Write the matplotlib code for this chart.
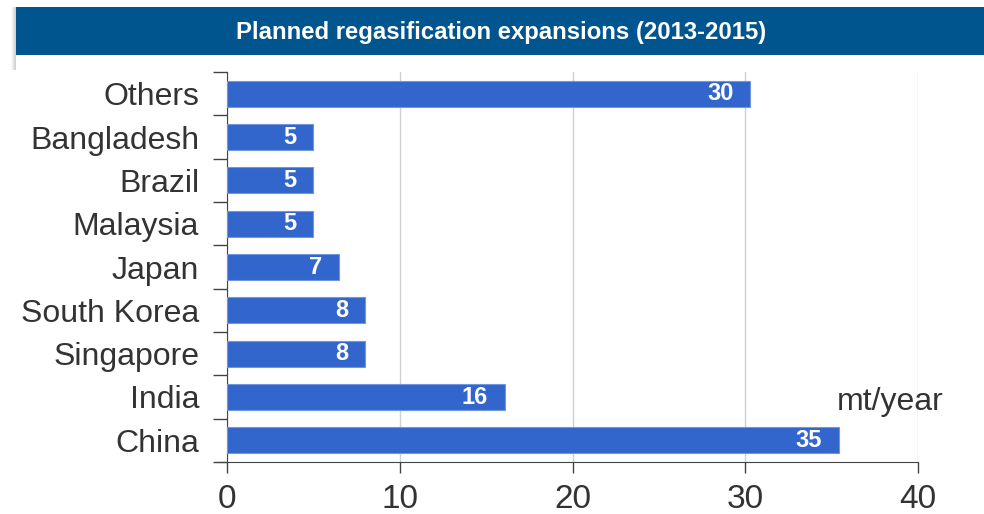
import matplotlib
matplotlib.use("Agg")
import matplotlib.pyplot as plt
import numpy as np
from matplotlib.patches import Rectangle

categories = ["China", "India", "Singapore", "South Korea", "Japan", "Malaysia", "Brazil", "Bangladesh", "Others"]
values = [35.4, 16.1, 8.0, 8.0, 6.5, 5.0, 5.0, 5.0, 30.3]
value_labels = ["35", "16", "8", "8", "7", "5", "5", "5", "30"]
xticks = [0, 10, 20, 30, 40]
title = "Planned regasification expansions (2013-2015)"
unit = "mt/year"

plt.rcParams['font.family'] = ['Liberation Sans', 'DejaVu Sans']

fig = plt.figure(figsize=(9.84, 5.14), dpi=100)
W, H = 984, 514

# soft shadow on the left edge of the title card
for i, a in enumerate(np.linspace(0.02, 0.18, 5)):
    fig.patches.append(Rectangle(((11 + i) / W, 1 - 70 / H), 1 / W, 63 / H, transform=fig.transFigure,
                                 facecolor="black", alpha=a, edgecolor="none", zorder=0))
fig.patches.append(Rectangle((16 / W, 1 - 55 / H), (W - 16) / W, 48 / H, transform=fig.transFigure,
                             facecolor="#00558f", edgecolor="none", zorder=1))
fig.text(501 / W, 1 - 32 / H, title, color="white", fontsize=17.2, fontweight="bold",
         ha="center", va="center", zorder=2)

left, right, top, bottom = 227, 918, 72, 462
ax = fig.add_axes([left / W, 1 - bottom / H, (right - left) / W, (bottom - top) / H])

y = list(range(len(categories)))
ax.barh(y, values, height=0.6, color="#3366cc", edgecolor="#7097de", linewidth=0.8, zorder=3)
for yi, v, lab in zip(y, values, value_labels):
    ax.text(v - 0.98, yi, lab, color="white", fontsize=17, fontweight="bold",
            ha="right", va="center", zorder=4)

ax.set_xlim(0, 40)
ax.set_ylim(-0.5, len(categories) - 0.5)
ax.set_xticks(xticks)
ax.set_xticklabels([str(t) for t in xticks], fontsize=24, color="#333333")
ax.set_yticks(y)
ax.set_yticklabels(categories, fontsize=23, color="#333333")
ax.tick_params(axis="y", length=0, pad=20)
ax.tick_params(axis="x", length=8, width=1, color="#444444", pad=8)
ax.set_yticks([i - 0.5 for i in range(len(categories) + 1)], minor=True)
ax.tick_params(axis="y", which="minor", length=10, width=1, color="#444444")

ax.grid(axis="x", color="#d0d0d0", linewidth=1, zorder=0)
ax.set_axisbelow(True)
for s in ["top", "right"]:
    ax.spines[s].set_visible(False)
ax.spines["left"].set_color("#444444")
ax.spines["bottom"].set_color("#444444")
ax.spines["bottom"].set_bounds(-0.55, 40)

ax.text(0.883, 0.155, unit, transform=ax.transAxes, fontsize=23, color="#333333",
        ha="left", va="center")

fig.savefig("out.png", dpi=100)
